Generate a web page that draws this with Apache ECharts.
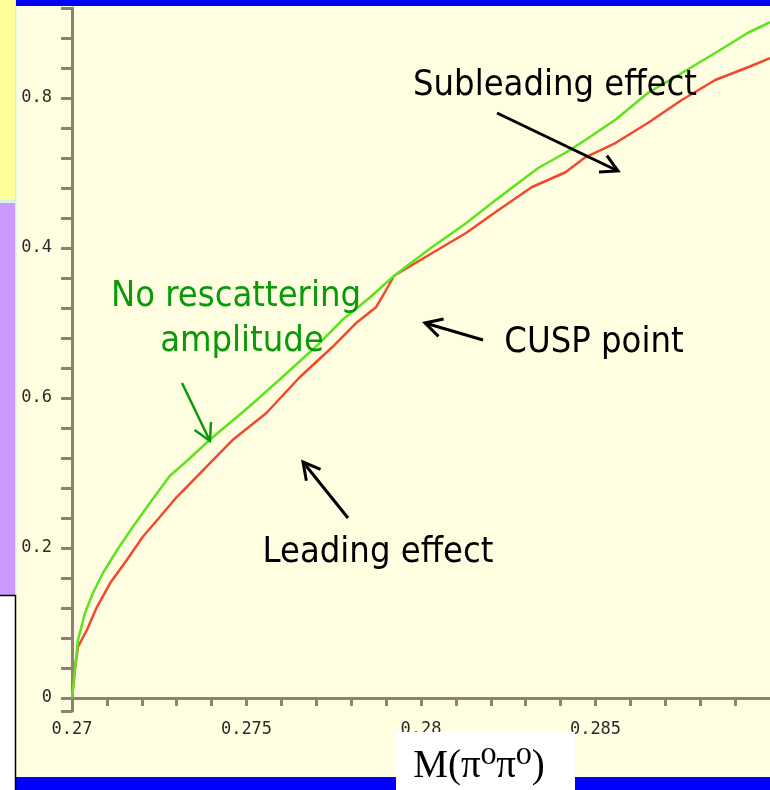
<!DOCTYPE html>
<html><head><meta charset="utf-8">
<script src="https://cdn.jsdelivr.net/npm/echarts@6/dist/echarts.min.js"></script>
<style>html,body{margin:0;padding:0;background:#fffee0}#c{width:770px;height:790px}</style>
</head><body><div id="c"></div>
<script>
// ---- data ----
const greenX = [0.27,0.27009,0.27017,0.27037,0.2706,0.27089,0.27129,0.27174,0.27223,0.2728,0.27329,0.27394,0.27509,0.27603,0.277,0.27774,0.27851,0.27923,0.28031,0.28129,0.28214,0.28337,0.28414,0.28471,0.28557,0.28651,0.28746,0.28843,0.28937,0.29];
const greenY = [0,0.041,0.077,0.113,0.140,0.167,0.197,0.228,0.260,0.296,0.316,0.344,0.389,0.428,0.469,0.504,0.533,0.563,0.601,0.633,0.664,0.707,0.727,0.744,0.771,0.807,0.833,0.860,0.887,0.901];
const redX = [0.27,0.27009,0.27017,0.27043,0.27071,0.27109,0.27157,0.27203,0.27251,0.273,0.27357,0.27403,0.2746,0.27557,0.27651,0.27746,0.27814,0.27871,0.279,0.27923,0.28031,0.28129,0.28223,0.28317,0.28414,0.28471,0.28557,0.28651,0.28746,0.28843,0.28937,0.29];
const redY = [0,0.041,0.068,0.091,0.121,0.153,0.184,0.215,0.241,0.268,0.295,0.317,0.344,0.380,0.427,0.468,0.500,0.521,0.544,0.563,0.593,0.620,0.651,0.681,0.701,0.721,0.740,0.767,0.797,0.824,0.841,0.853];
const xTickValues = [0.27,0.271,0.272,0.273,0.274,0.275,0.276,0.277,0.278,0.279,0.28,0.281,0.282,0.283,0.284,0.285,0.286,0.287,0.288,0.289];
const xLabelValues = [0.27,0.275,0.28,0.285];
const xLabelTexts = ['0.27','0.275','0.28','0.285'];
const yTickValues = [-0.0173,0,0.04,0.08,0.12,0.16,0.2,0.24,0.28,0.32,0.36,0.4,0.44,0.48,0.52,0.56,0.6,0.64,0.68,0.72,0.76,0.8,0.84,0.88,0.92];
const yLabelValues = [0,0.2,0.4,0.6,0.8];
const yLabelTexts = ['0','0.2','0.6','0.4','0.8'];
const annotations = [
  {text:'Subleading effect', color:'#000000'},
  {text:'CUSP point', color:'#000000'},
  {text:'Leading effect', color:'#000000'},
  {text:'No rescattering', color:'#0a990a'},
  {text:'amplitude', color:'#0a990a'}
];
const axisTitle = 'M(π⁰π⁰)';

// ---- chart ----
const axisCol = '#8c8172';
function pick(vals, texts, v){ for (let i=0;i<vals.length;i++){ if (Math.abs(vals[i]-v)<1e-7) return texts[i]; } return ''; }
const zip = (xs, ys) => xs.map((x,i)=>[x, ys[i]]);

function arrow(x1,y1,x2,y2,color,w){
  const a = Math.atan2(y2-y1, x2-x1), L = 19, s = 0.5;
  return [
    {type:'line', z:50, shape:{x1:x1,y1:y1,x2:x2,y2:y2}, style:{stroke:color, lineWidth:w}},
    {type:'polyline', z:50, shape:{points:[[x2-L*Math.cos(a-s), y2-L*Math.sin(a-s)],[x2,y2],[x2-L*Math.cos(a+s), y2-L*Math.sin(a+s)]]}, style:{stroke:color, lineWidth:w, fill:null}}
  ];
}
const annFont = '36px "DejaVu Sans Condensed", "DejaVu Sans", sans-serif';
const annPos = [[555,86],[594,343],[378,553],[236,297],[242,342]];
const annEls = annotations.map((a,i)=>({type:'text', z:50, x:annPos[i][0], y:annPos[i][1],
  style:{text:a.text, fill:a.color, font:annFont, align:'center', verticalAlign:'middle'}}));

const graphics = [].concat(
  annEls,
  arrow(497,113,618,171,'#000',3),
  arrow(483,340,425,323,'#000',3),
  arrow(348,518,303,462,'#000',3),
  arrow(182,383,210,441,'#0a990a',2.5),
  [
    {type:'rect', z:100, shape:{x:0,y:0,width:15,height:200}, style:{fill:'#ffff99'}},
    {type:'rect', z:100, shape:{x:0,y:200,width:15,height:3}, style:{fill:'#d6f5e4'}},
    {type:'rect', z:100, shape:{x:0,y:203,width:15,height:392}, style:{fill:'#cc99ff'}},
    {type:'rect', z:100, shape:{x:15,y:0,width:1.5,height:595}, style:{fill:'#ccf2e6'}},
    {type:'rect', z:100, shape:{x:0,y:595,width:16,height:195}, style:{fill:'#ffffff'}},
    {type:'line', z:101, shape:{x1:0,y1:595.5,x2:16,y2:595.5}, style:{stroke:'#000',lineWidth:1.5}},
    {type:'line', z:101, shape:{x1:15.5,y1:595,x2:15.5,y2:790}, style:{stroke:'#000',lineWidth:1.5}},
    {type:'rect', z:100, shape:{x:16,y:0,width:754,height:6}, style:{fill:'#0000ff'}},
    {type:'rect', z:100, shape:{x:16,y:777,width:754,height:13}, style:{fill:'#0000ff'}},
    {type:'rect', z:101, shape:{x:396,y:732,width:179,height:58}, style:{fill:'#ffffff'}},
    {type:'text', z:102, x:479, y:767, style:{text:axisTitle, fill:'#000', font:'39px "Liberation Serif", "DejaVu Serif", serif', align:'center', verticalAlign:'middle'}}
  ]
);

const chart = echarts.init(document.getElementById('c'), null, {renderer:'canvas'});
chart.setOption({
  animation:false,
  backgroundColor:'#fffee0',
  grid:{left:72, right:-2, top:8, bottom:79, containLabel:false},
  xAxis:{type:'value', min:0.27, max:0.29,
    axisLine:{onZero:true, lineStyle:{color:axisCol, width:3}},
    axisTick:{customValues:xTickValues, length:8, lineStyle:{color:axisCol, width:3}},
    axisLabel:{customValues:xLabelValues, margin:10, color:'#2a2a2a', fontFamily:'"DejaVu Sans Mono", monospace', fontSize:17,
      formatter:(v)=>pick(xLabelValues, xLabelTexts, v)},
    splitLine:{show:false}},
  yAxis:{type:'value', min:-0.0173, max:0.92,
    axisLine:{show:true, onZero:false, lineStyle:{color:axisCol, width:3}},
    axisTick:{show:true, customValues:yTickValues, length:11, lineStyle:{color:axisCol, width:3}},
    axisLabel:{customValues:yLabelValues, margin:20, color:'#2a2a2a', fontFamily:'"DejaVu Sans Mono", monospace', fontSize:17,
      formatter:(v)=>pick(yLabelValues, yLabelTexts, v)},
    splitLine:{show:false}},
  series:[
    {type:'line', name:'No rescattering', data:zip(greenX, greenY), showSymbol:false, symbol:'none',
      lineStyle:{color:'#5fe21f', width:2.5}, z:3},
    {type:'line', name:'With rescattering', data:zip(redX, redY), showSymbol:false, symbol:'none',
      lineStyle:{color:'#f2492e', width:2.5}, z:2}
  ],
  graphic:graphics
});
</script>
</body></html>
